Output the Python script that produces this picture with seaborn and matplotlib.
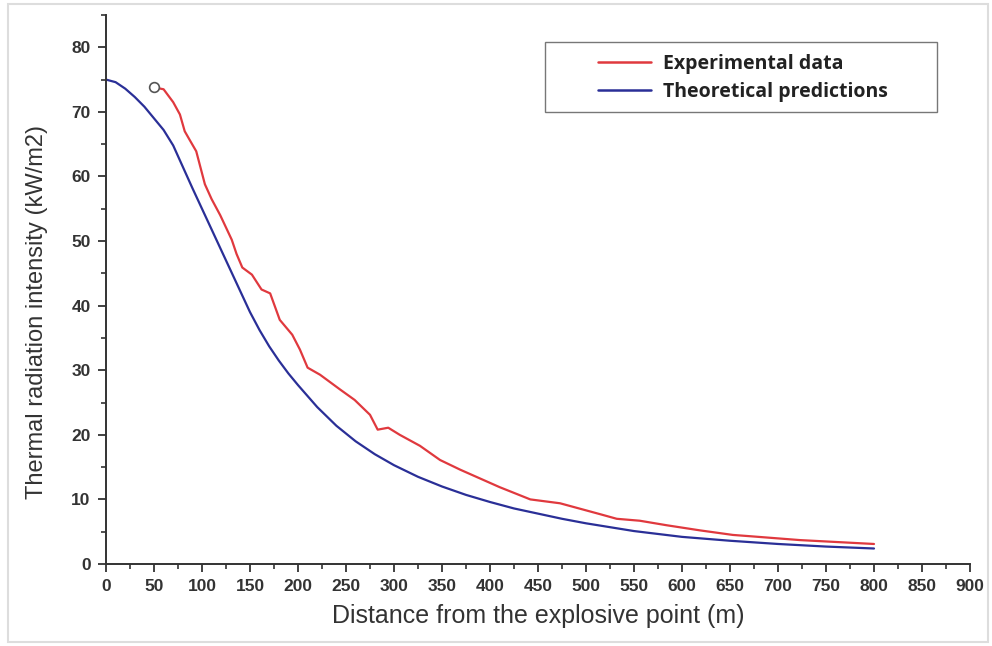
import numpy as np
import pandas as pd
import matplotlib
matplotlib.use("Agg")
import matplotlib.pyplot as plt
import seaborn as sns
from matplotlib.ticker import MultipleLocator
from matplotlib.patches import Rectangle
from matplotlib.lines import Line2D

# ---- data ----
red_x = [50, 60, 70, 77, 82, 87, 94, 103, 110, 119, 131, 136, 142, 152, 162, 171,
         181, 194, 202, 210, 223, 244, 259, 275, 283, 294, 306, 327, 348, 369,
         410, 442, 473, 515, 532, 556, 584, 619, 653, 671, 723, 800]
red_y = [73.8, 73.5, 71.5, 69.6, 67.0, 65.7, 63.9, 58.8, 56.5, 54.0, 50.2, 48.0,
         45.9, 44.8, 42.5, 41.9, 37.8, 35.5, 33.2, 30.4, 29.3, 27.0, 25.4, 23.1,
         20.8, 21.1, 20.0, 18.3, 16.1, 14.6, 11.9, 10.0, 9.4, 7.7, 7.0, 6.7, 6.0,
         5.2, 4.5, 4.3, 3.7, 3.1]
blue_x = [0, 10, 20, 30, 40, 50, 60, 70, 80, 90, 100, 110, 120, 130, 140, 150,
          160, 170, 180, 190, 200, 220, 240, 260, 280, 300, 325, 350, 375, 400,
          425, 450, 475, 500, 550, 600, 650, 700, 750, 800]
blue_y = [75.0, 74.6, 73.6, 72.3, 70.8, 69.0, 67.2, 64.8, 61.5, 58.2, 55.0, 51.8,
          48.6, 45.4, 42.2, 39.0, 36.2, 33.7, 31.5, 29.5, 27.7, 24.3, 21.4, 19.0,
          17.0, 15.3, 13.5, 12.0, 10.7, 9.6, 8.6, 7.8, 7.0, 6.3, 5.1, 4.2, 3.6,
          3.1, 2.7, 2.4]
series_names = ["Experimental data", "Theoretical predictions"]
x_ticks = list(range(0, 901, 50))
y_ticks = list(range(0, 81, 10))

df = pd.concat([
    pd.DataFrame({"x": red_x, "y": red_y, "series": series_names[0]}),
    pd.DataFrame({"x": blue_x, "y": blue_y, "series": series_names[1]}),
])

sns.set_theme(style="ticks")
plt.rcParams["font.family"] = ["Liberation Sans", "DejaVu Sans"]

W, H = 992, 646
fig = plt.figure(figsize=(W / 100, H / 100), dpi=100)
ax_l, ax_r, ax_b, ax_t = 106, 970, 564, 15
ax = fig.add_axes([ax_l / W, 1 - ax_b / H, (ax_r - ax_l) / W, (ax_b - ax_t) / H])

def ax_coords(px, py):
    return ((px - ax_l) / (ax_r - ax_l), (ax_b - py) / (ax_b - ax_t))

palette = {series_names[0]: "#e0393e", series_names[1]: "#2a2f97"}
sns.lineplot(data=df, x="x", y="y", hue="series", palette=palette, ax=ax,
             linewidth=1.6, sort=True, estimator=None, legend=False)
ax.plot(red_x[0], red_y[0], marker="o", markersize=7, markerfacecolor="white",
        markeredgecolor="#555555", markeredgewidth=1.2, linestyle="none", zorder=5)

ax.set_xlim(0, 900)
ax.set_ylim(0, 85)
ax.set_xticks(x_ticks)
ax.set_yticks(y_ticks)
ax.xaxis.set_minor_locator(MultipleLocator(25))
ax.yaxis.set_minor_locator(MultipleLocator(5))
for s in ["top", "right"]:
    ax.spines[s].set_visible(False)
for s in ["left", "bottom"]:
    ax.spines[s].set_color("#333333")
    ax.spines[s].set_linewidth(1.4)
ax.tick_params(axis="both", which="major", length=6, width=1.3, color="#333333",
               labelsize=12.5, labelcolor="#333333", pad=5)
ax.tick_params(axis="both", which="minor", length=3.5, width=1.2, color="#333333")
for lab in ax.get_xticklabels() + ax.get_yticklabels():
    lab.set_fontweight("bold")

ax.set_xlabel("Distance from the explosive point (m)", fontsize=18, color="#333333",
              labelpad=7)
ax.set_ylabel("Thermal radiation intensity (kW/m2)", fontsize=17, color="#333333")
ax.yaxis.set_label_coords(*ax_coords(48, 312))

# legend frame and entries
x0, y0 = ax_coords(545, 112)
x1, y1 = ax_coords(937, 42)
ax.add_patch(Rectangle((x0, y0), x1 - x0, y1 - y0, transform=ax.transAxes,
                       fill=False, edgecolor="#777777", linewidth=1.0, zorder=6))
handles = [Line2D([], [], color=palette[n], linewidth=1.8) for n in series_names]
leg = ax.legend(handles, series_names, loc="upper left",
                bbox_to_anchor=ax_coords(598, 54),
                frameon=False, borderpad=0, handlelength=2.7,
                handletextpad=0.65, labelspacing=0.4, borderaxespad=0,
                prop={"family": "Open Sans", "weight": "bold", "size": 14})
for t in leg.get_texts():
    t.set_color("#222222")

# light outer frame like the reference screenshot
fig.patches.append(Rectangle((8 / W, 4 / H), 980 / W, 638 / H, transform=fig.transFigure,
                             fill=False, edgecolor="#dddddd", linewidth=1.5))

fig.savefig("out.png", dpi=100)
